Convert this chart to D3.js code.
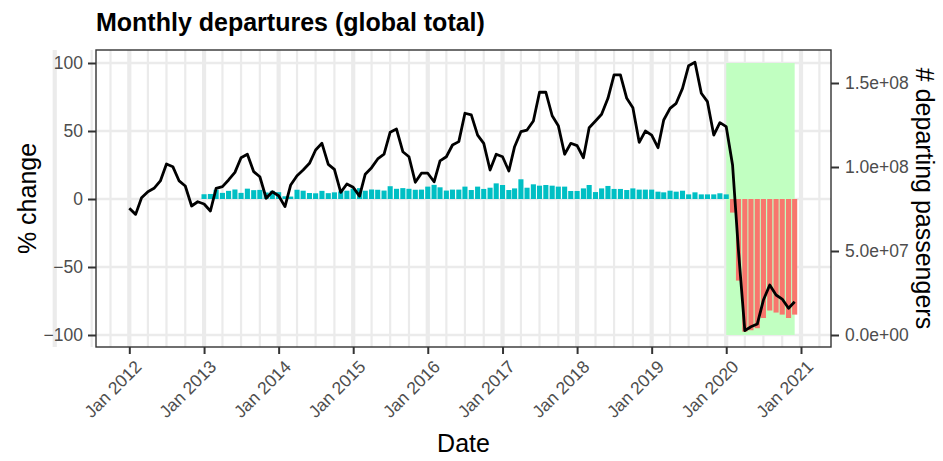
<!DOCTYPE html>
<html>
<head>
<meta charset="utf-8">
<script src="https://cdn.jsdelivr.net/npm/d3@7"></script>
<style>
  body { margin: 0; background: #fff; }
  svg { display: block; font-family: "Liberation Sans", Arial, sans-serif; }
</style>
</head>
<body>
<div id="chart"></div>
<script>
// monthly departing passengers, millions, Jan 2012 .. Dec 2020 (one row per year)
let departures = [
  75.4, 71.8, 81.7, 85.3, 87.3, 91.7, 101.8, 100.2, 91.7, 88.7, 76.8, 79.3,
  78.0, 73.8, 87.3, 88.3, 92.3, 96.8, 105.5, 107.6, 97.2, 94.2, 81.4, 85.3,
  82.9, 76.4, 89.3, 94.8, 98.2, 102.2, 110.1, 114.1, 101.6, 98.6, 84.9, 89.9,
  87.9, 82.7, 95.7, 99.6, 104.8, 107.6, 120.7, 122.6, 109.1, 106.1, 90.9, 96.3,
  96.3, 91.2, 103.6, 106.1, 113.1, 115.1, 132.0, 131.0, 119.0, 114.1, 98.2, 107.6,
  106.1, 97.6, 112.1, 121.0, 122.0, 127.4, 144.5, 144.5, 130.5, 124.6, 107.6, 114.1,
  112.7, 105.5, 123.4, 127.4, 131.4, 140.9, 154.8, 154.8, 140.9, 135.3, 114.7, 121.4,
  119.0, 111.5, 128.0, 134.9, 137.9, 146.8, 160.3, 162.3, 143.9, 138.9, 119.0, 126.4,
  124.0, 101.2, 50.0, 2.6, 4.9, 6.5, 20.8, 29.8, 23.8, 21.4, 15.9, 19.8
]

// % change vs same month of previous year, Jan 2013 .. Dec 2020
let pctChange = [
  3.5, 3.7, 6.8, 4.5, 6.0, 7.0, 4.5, 7.6, 6.5, 6.7, 4.8, 6.0,
  5.0, 2.0, 1.8, 6.8, 6.1, 4.4, 4.2, 6.0, 4.3, 4.9, 5.6, 6.1,
  7.6, 8.0, 6.1, 7.0, 6.8, 6.2, 9.4, 7.5, 8.0, 7.5, 6.8, 6.9,
  9.1, 10.4, 8.6, 6.2, 6.9, 6.9, 9.1, 6.6, 9.1, 7.4, 8.3, 11.5,
  10.3, 6.6, 7.8, 14.5, 8.3, 10.8, 9.8, 10.3, 9.8, 9.1, 9.1, 5.9,
  5.9, 7.8, 10.3, 5.1, 7.8, 9.6, 7.4, 7.4, 6.6, 7.8, 6.9, 6.9,
  6.9, 5.4, 4.9, 6.1, 5.4, 6.1, 3.4, 4.9, 3.4, 3.4, 3.4, 4.2,
  3.4, -10, -60, -97.5, -96.5, -95, -87.5, -82, -83.5, -85, -87.5, -85
]

let xTickYears = [2012, 2013, 2014, 2015, 2016, 2017, 2018, 2019, 2020, 2021]
let leftTicks = [-100, -50, 0, 50, 100]
let rightTicks = [0, 5e7, 1e8, 1.5e8]
// shaded covid period
let covidStart = '2020-01-01', covidEnd = '2020-12-01'

let margin = {top: 50, right: 112, bottom: 114, left: 96},
  width = 943 - margin.left - margin.right,
  height = 461 - margin.top - margin.bottom

let svg = d3
  .select('#chart')
  .append('svg')
  .attr('width', 943)
  .attr('height', 461)

let g = svg
  .append('g')
  .attr('transform', 'translate(' + margin.left + ',' + margin.top + ')')

let lineDates = departures.map((d, i) => new Date(Date.UTC(2012, i, 1)))
let barDates = pctChange.map((d, i) => new Date(Date.UTC(2013, i, 1)))

let x = d3
  .scaleUtc()
  .domain([new Date(Date.UTC(2012, 0, 1)), new Date(Date.UTC(2021, 0, 1))])
  .range([33.3, 705])

let yLeft = d3.scaleLinear().domain([-100, 100]).range([285, 13])
let yRight = d3.scaleLinear().domain([0, 1.5e8]).range([285, 33])

// grid: quarterly minor, yearly major
let t0 = x.invert(0), t1 = x.invert(width)
let minor = d3.utcMonth.every(3).range(d3.utcMonth.floor(t0), t1)
let major = d3.utcYear.range(d3.utcYear.floor(t0), t1)

g.append('g')
  .selectAll('line')
  .data(minor)
  .enter()
  .append('line')
  .attr('x1', d => x(d))
  .attr('x2', d => x(d))
  .attr('y1', 0)
  .attr('y2', height)
  .attr('stroke', '#ebebeb')
  .attr('stroke-width', 2.2)

g.append('g')
  .selectAll('line')
  .data(leftTicks)
  .enter()
  .append('line')
  .attr('x1', 0)
  .attr('x2', width)
  .attr('y1', d => yLeft(d))
  .attr('y2', d => yLeft(d))
  .attr('stroke', '#ebebeb')
  .attr('stroke-width', 2.4)

g.append('g')
  .selectAll('line')
  .data(major)
  .enter()
  .append('line')
  .attr('x1', d => x(d))
  .attr('x2', d => x(d))
  .attr('y1', 0)
  .attr('y2', height)
  .attr('stroke', '#ebebeb')
  .attr('stroke-width', 4.2)

// covid shading
g.append('rect')
  .attr('x', x(new Date(covidStart)))
  .attr('width', x(new Date(covidEnd)) - x(new Date(covidStart)))
  .attr('y', yLeft(100))
  .attr('height', yLeft(-100) - yLeft(100))
  .attr('fill', '#c1ffc1')

// bars
let bw = x(new Date(Date.UTC(2012, 0, 26.2))) - x(new Date(Date.UTC(2012, 0, 1)))
g.append('g')
  .selectAll('rect')
  .data(pctChange)
  .enter()
  .append('rect')
  .attr('x', (d, i) => x(barDates[i]) - bw / 2)
  .attr('width', bw)
  .attr('y', d => yLeft(Math.max(0, d)))
  .attr('height', d => Math.abs(yLeft(d) - yLeft(0)))
  .attr('fill', d => (d >= 0 ? '#00bfc4' : '#f8766d'))

// passengers line
let line = d3
  .line()
  .x((d, i) => x(lineDates[i]))
  .y(d => yRight(d * 1e6))

g.append('path')
  .datum(departures)
  .attr('d', line)
  .attr('fill', 'none')
  .attr('stroke', '#000')
  .attr('stroke-width', 2.8)
  .attr('stroke-linejoin', 'round')

// panel border
g.append('rect')
  .attr('width', width)
  .attr('height', height)
  .attr('fill', 'none')
  .attr('stroke', '#333')
  .attr('stroke-width', 1.4)

function styleAxis(sel) {
  sel.select('.domain').remove()
  sel.selectAll('.tick line').attr('stroke', '#333').attr('stroke-width', 2)
  sel
    .selectAll('.tick text')
    .attr('fill', '#4d4d4d')
    .style('font-size', '17.5px')
}

g.append('g')
  .call(
    d3.axisLeft(yLeft).tickValues(leftTicks).tickSize(8).tickPadding(5)
  )
  .call(styleAxis)

function sci(d) {
  let parts = d.toExponential(1).split('e')
  let e = parseInt(parts[1])
  return parts[0] + 'e' + (e < 0 ? '-' : '+') + String(Math.abs(e)).padStart(2, '0')
}

g.append('g')
  .attr('transform', 'translate(' + width + ',0)')
  .call(
    d3
      .axisRight(yRight)
      .tickValues(rightTicks)
      .tickFormat(sci)
      .tickSize(8)
      .tickPadding(6)
  )
  .call(styleAxis)

let xAxis = g
  .append('g')
  .attr('transform', 'translate(0,' + height + ')')
  .call(
    d3
      .axisBottom(x)
      .tickValues(xTickYears.map(y => new Date(Date.UTC(y, 0, 1))))
      .tickFormat(d3.utcFormat('%b %Y'))
      .tickSize(7)
  )
  .call(styleAxis)

xAxis
  .selectAll('.tick text')
  .attr('text-anchor', 'end')
  .attr('y', 0)
  .attr('dy', '0.72em')
  .attr('transform', 'translate(4,12) rotate(-45)')

// titles
svg
  .append('text')
  .attr('x', 96)
  .attr('y', 31)
  .style('font-size', '25px')
  .style('font-weight', 'bold')
  .text('Monthly departures (global total)')

svg
  .append('text')
  .attr('x', margin.left + width / 2)
  .attr('y', 452)
  .attr('text-anchor', 'middle')
  .style('font-size', '25px')
  .text('Date')

svg
  .append('text')
  .attr('transform', 'translate(36,' + (margin.top + height / 2) + ') rotate(-90)')
  .attr('text-anchor', 'middle')
  .style('font-size', '25px')
  .text('% change')

svg
  .append('text')
  .attr('transform', 'translate(916,' + (margin.top + height / 2) + ') rotate(90)')
  .attr('text-anchor', 'middle')
  .style('font-size', '25px')
  .text('# departing passengers')
</script>
</body>
</html>
